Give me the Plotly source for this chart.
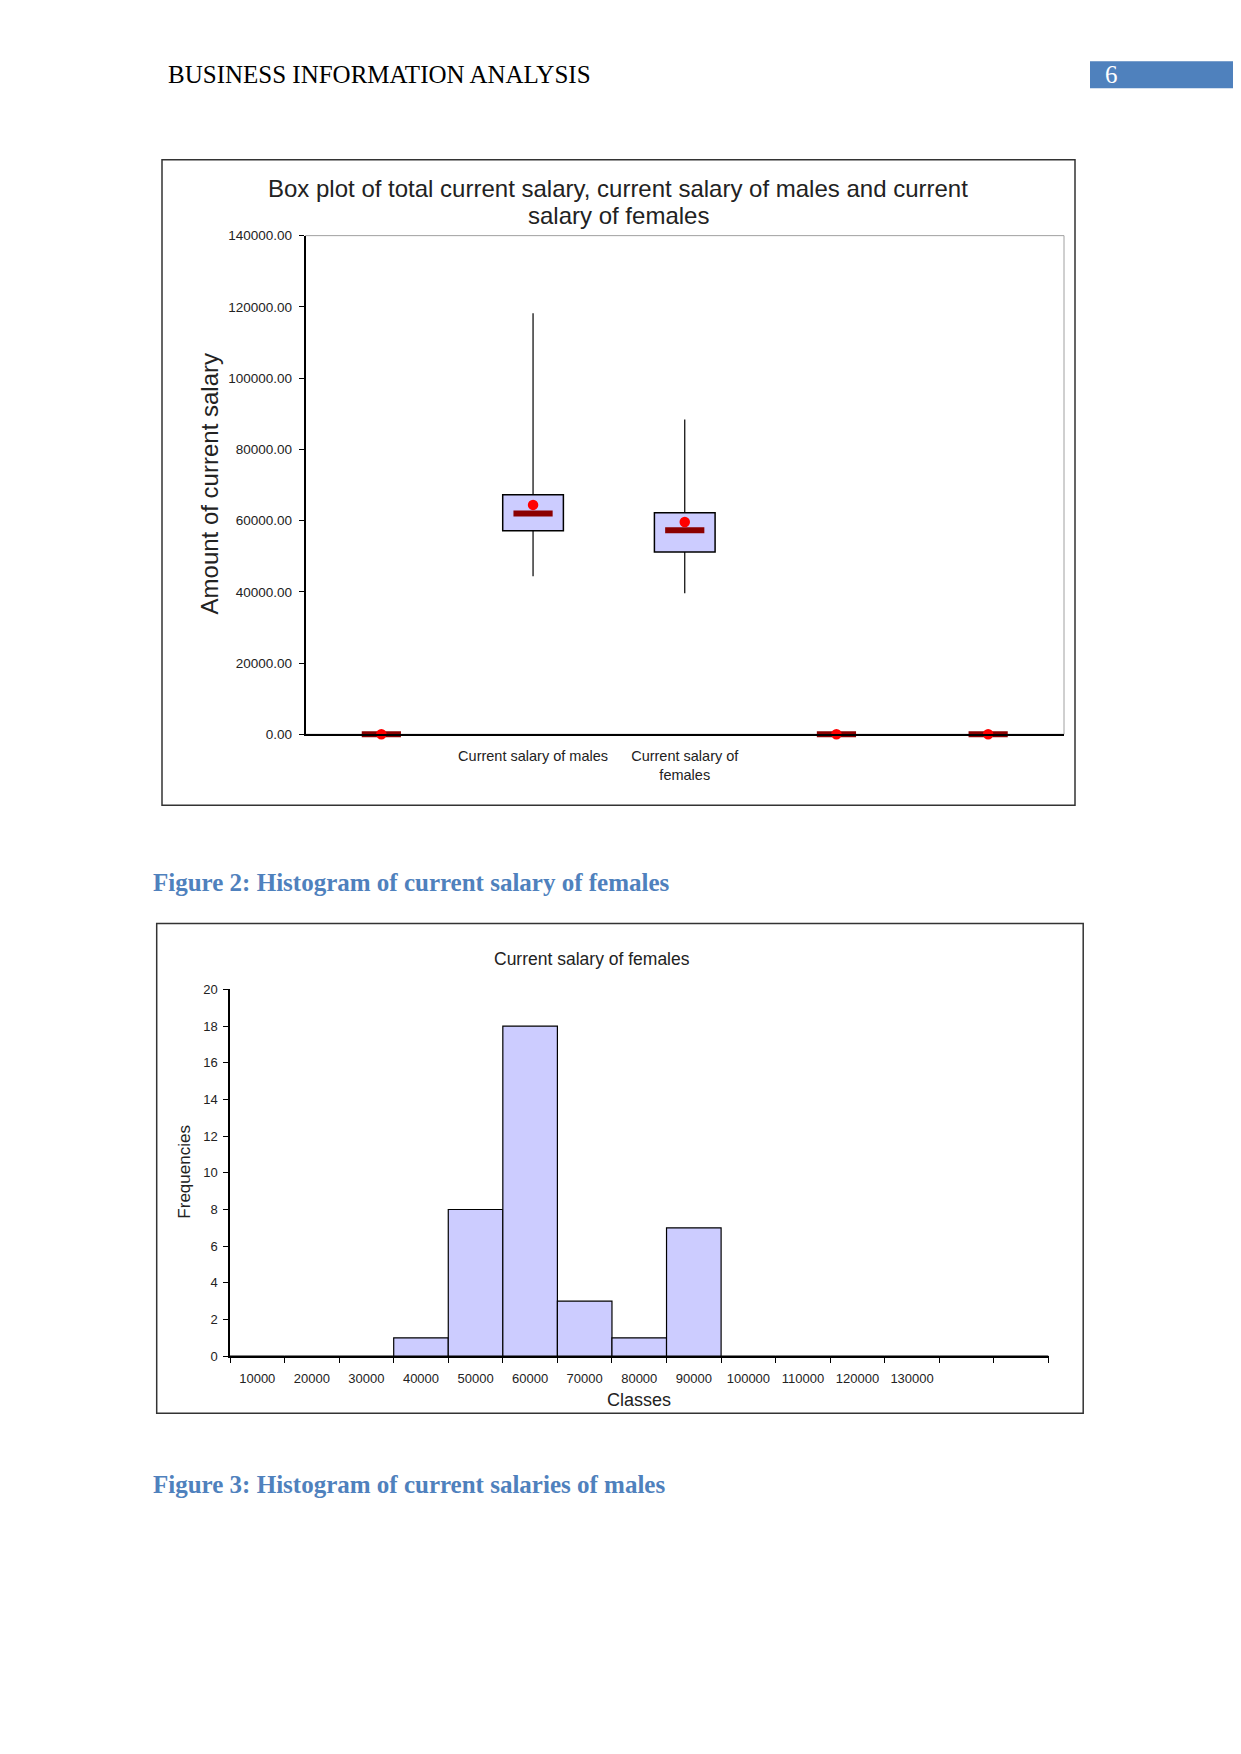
import plotly.graph_objects as go

# Box plot data (current salary)
box_labels = ["", "Current salary of males", "Current salary of<br>females", "", ""]
box_lower = [None, 44400, 39600, None, None]
box_q1 = [None, 57150, 51150, None, None]
box_median = [0, 62000, 57250, 0, 0]
box_mean = [0, 64400, 59600, 0, 0]
box_q3 = [None, 67250, 62200, None, None]
box_upper = [None, 118200, 88400, None, None]

# Histogram of current salary of females
hist_classes = ["10000", "20000", "30000", "40000", "50000", "60000", "70000",
                "80000", "90000", "100000", "110000", "120000", "130000", "", ""]
hist_freq = [0, 0, 0, 1, 8, 18, 3, 1, 7, 0, 0, 0, 0, 0, 0]

# page is 1241x1754; the figure lands a bit offset on the page, so
# page positions are mapped back into figure space
PAGE_W, PAGE_H = 1241, 1754
OFF_X = 8
W, H = PAGE_W - 2 * OFF_X, PAGE_H - 16
OFF_Y, SCALE_Y = 15.2, 0.9921
SANS = "Liberation Sans, Arial, sans-serif"
SERIF = "Liberation Serif, Times New Roman, serif"
BLUE = "#4F81BD"
FILL = "#CCCCFF"


def px(x):
    return (x - OFF_X) / W


def py(y):
    return 1 - (y - OFF_Y) / SCALE_Y / H


box_x = list(range(len(box_labels)))
box_h = [None if a is None else b - a for a, b in zip(box_q1, box_q3)]
up_err = [None if a is None else b - a for a, b in zip(box_q3, box_upper)]
lo_err = [None if a is None else a - b for a, b in zip(box_q1, box_lower)]

fig = go.Figure()

# boxes
fig.add_trace(go.Bar(
    x=box_x, y=box_h, base=box_q1, width=0.4,
    marker=dict(color=FILL, line=dict(color="black", width=1.5)),
    xaxis="x", yaxis="y", showlegend=False,
))
# whiskers
fig.add_trace(go.Scatter(
    x=box_x, y=box_q3, mode="markers",
    marker=dict(size=1, color="rgba(0,0,0,0)"),
    error_y=dict(type="data", symmetric=False, array=up_err,
                 arrayminus=[0] * len(box_x), width=0, thickness=1.2, color="black"),
    xaxis="x", yaxis="y", showlegend=False,
))
fig.add_trace(go.Scatter(
    x=box_x, y=box_q1, mode="markers",
    marker=dict(size=1, color="rgba(0,0,0,0)"),
    error_y=dict(type="data", symmetric=False, array=[0] * len(box_x),
                 arrayminus=lo_err, width=0, thickness=1.2, color="black"),
    xaxis="x", yaxis="y", showlegend=False,
))
# medians
fig.add_trace(go.Scatter(
    x=box_x, y=box_median, mode="markers", cliponaxis=False,
    marker=dict(symbol="line-ew", size=28, line=dict(color="#8B0000", width=6)),
    xaxis="x", yaxis="y", showlegend=False,
))
# means
fig.add_trace(go.Scatter(
    x=box_x, y=box_mean, mode="markers", cliponaxis=False,
    marker=dict(symbol="circle", size=10.5, color="#FF0000"),
    xaxis="x", yaxis="y", showlegend=False,
))

# histogram
hist_x = list(range(len(hist_classes)))
fig.add_trace(go.Bar(
    x=hist_x, y=hist_freq, width=1,
    marker=dict(color=FILL, line=dict(color="black", width=1.2)),
    xaxis="x2", yaxis="y2", showlegend=False,
))

tick_font = dict(family=SANS, size=13, color="#222")

fig.update_layout(
    width=W, height=H,
    margin=dict(l=0, r=0, t=0, b=0),
    paper_bgcolor="white", plot_bgcolor="white",
    xaxis=dict(
        domain=[px(305.5), px(1064)], range=[-0.5, len(box_x) - 0.5],
        tickvals=box_x, ticktext=box_labels, ticks="", ticklabelstandoff=8,
        showline=True, linecolor="black", linewidth=1.5,
        showgrid=False, zeroline=False, tickfont=dict(family=SANS, size=14.5, color="#222"),
    ),
    yaxis=dict(
        domain=[py(735), py(236)], range=[0, 140000], dtick=20000,
        tickformat=".2f", ticks="outside", ticklen=5, tickcolor="black",
        ticklabelstandoff=4,
        showline=True, linecolor="black", linewidth=1.5,
        showgrid=False, zeroline=False, tickfont=dict(family=SANS, size=13.5, color="#222"),
    ),
    xaxis2=dict(
        domain=[px(230), px(1048.5)], range=[-0.5, len(hist_x) - 0.5],
        tickvals=hist_x, ticktext=hist_classes, ticks="", ticklabelstandoff=9,
        minor=dict(tickvals=[i - 0.5 for i in range(len(hist_x) + 1)],
                   ticks="outside", ticklen=5, tickcolor="black"),
        showline=True, linecolor="black", linewidth=1.5,
        showgrid=False, zeroline=False, tickfont=tick_font,
        anchor="y2",
    ),
    yaxis2=dict(
        domain=[py(1357.4), py(990.3)], range=[0, 20], dtick=2,
        ticks="outside", ticklen=5, tickcolor="black", ticklabelstandoff=3,
        showline=True, linecolor="black", linewidth=1.5,
        showgrid=False, zeroline=False, tickfont=tick_font,
        anchor="x2",
    ),
    shapes=[
        # page number block
        dict(type="rect", xref="paper", yref="paper",
             x0=px(1090), x1=1, y0=py(88.4), y1=py(61.5),
             fillcolor=BLUE, line=dict(width=0), layer="below"),
        # box plot frame
        dict(type="rect", xref="paper", yref="paper",
             x0=px(162), x1=px(1075), y0=py(806), y1=py(160),
             line=dict(color="#333", width=1.5), layer="below"),
        # box plot area border
        dict(type="rect", xref="x domain", yref="y domain",
             x0=0, x1=1, y0=0, y1=1,
             line=dict(color="#A0A0A0", width=1), layer="below"),
        # histogram frame
        dict(type="rect", xref="paper", yref="paper",
             x0=px(156.7), x1=px(1083.2), y0=py(1414.4), y1=py(924.3),
             line=dict(color="#333", width=1.5), layer="below"),
    ],
    annotations=[
        dict(text="BUSINESS INFORMATION ANALYSIS", x=px(165.6), y=py(75),
             xref="paper", yref="paper", xanchor="left", yanchor="middle",
             showarrow=False, font=dict(family=SERIF, size=25, color="black")),
        dict(text="6", x=px(1111), y=py(75), xref="paper", yref="paper",
             xanchor="center", yanchor="middle", showarrow=False,
             font=dict(family=SERIF, size=25, color="white")),
        dict(text="Box plot of total current salary, current salary of males and current",
             x=px(618), y=py(189), xref="paper", yref="paper",
             xanchor="center", yanchor="middle", showarrow=False,
             font=dict(family=SANS, size=24, color="#222")),
        dict(text="salary of females",
             x=px(618), y=py(216), xref="paper", yref="paper",
             xanchor="center", yanchor="middle", showarrow=False,
             font=dict(family=SANS, size=24, color="#222")),
        dict(text="Amount of current salary", x=px(209), y=py(485),
             xref="paper", yref="paper", xanchor="center", yanchor="middle",
             textangle=-90, showarrow=False,
             font=dict(family=SANS, size=24, color="#222")),
        dict(text="<b>Figure 2: Histogram of current salary of females</b>",
             x=px(151), y=py(883), xref="paper", yref="paper",
             xanchor="left", yanchor="middle", showarrow=False,
             font=dict(family=SERIF, size=25, color=BLUE)),
        dict(text="Current salary of females", x=px(592), y=py(960),
             xref="paper", yref="paper", xanchor="center", yanchor="middle",
             showarrow=False, font=dict(family=SANS, size=17.5, color="#222")),
        dict(text="Frequencies", x=px(185), y=py(1172.7),
             xref="paper", yref="paper", xanchor="center", yanchor="middle",
             textangle=-90, showarrow=False,
             font=dict(family=SANS, size=17, color="#222")),
        dict(text="Classes", x=px(639), y=py(1401),
             xref="paper", yref="paper", xanchor="center", yanchor="middle",
             showarrow=False, font=dict(family=SANS, size=18, color="#222")),
        dict(text="<b>Figure 3: Histogram of current salaries of males</b>",
             x=px(151), y=py(1486), xref="paper", yref="paper",
             xanchor="left", yanchor="middle", showarrow=False,
             font=dict(family=SERIF, size=25, color=BLUE)),
    ],
)

fig.write_html("out.html")
